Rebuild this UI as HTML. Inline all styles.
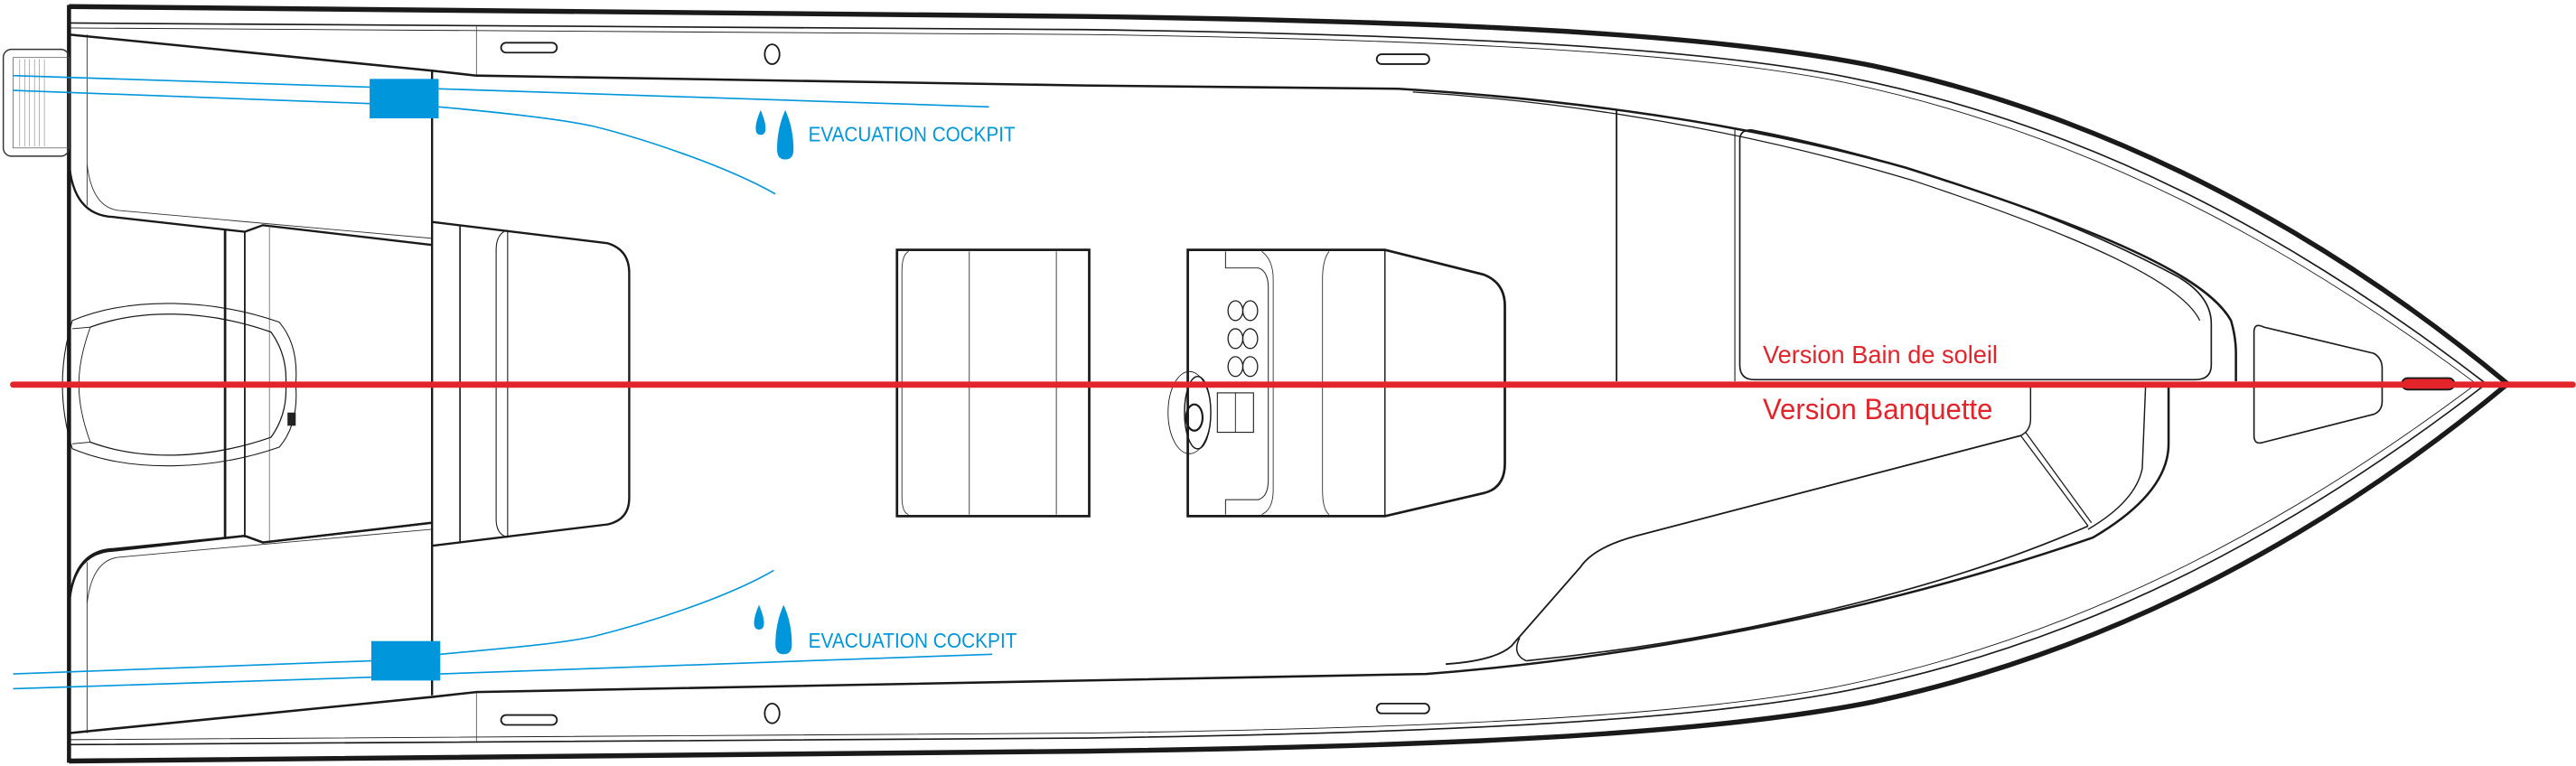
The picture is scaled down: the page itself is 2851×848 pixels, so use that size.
<!DOCTYPE html>
<html><head><meta charset="utf-8"><style>
html,body{margin:0;padding:0;background:#fff;}
svg{display:block;}
</style></head><body>
<svg width="2851" height="848" viewBox="0 0 1568 466" preserveAspectRatio="none" xmlns="http://www.w3.org/2000/svg">
<defs>
<g id="hull">
  <path d="M42,4 L660,10 C880,13 1040,20 1140,40 C1290,72 1420,145 1527,234" fill="none" stroke="#1a1a1a" stroke-width="3"/>
  <path d="M42,14 L660,18 C870,21 1030,28 1125,47 C1280,78 1405,150 1514,234" fill="none" stroke="#1a1a1a" stroke-width="0.9"/>
  <path d="M42,17 L660,21 C870,24 1028,31 1122,50 C1275,82 1400,153 1508,234" fill="none" stroke="#1a1a1a" stroke-width="0.5"/>
  <line x1="290" y1="16" x2="290" y2="46" stroke="#333" stroke-width="0.4"/>
  <rect x="305" y="26" width="34" height="6" rx="3" fill="none" stroke="#1a1a1a" stroke-width="1"/>
  <ellipse cx="470" cy="33" rx="4.5" ry="6" fill="none" stroke="#1a1a1a" stroke-width="1"/>
  <rect x="838" y="33" width="32" height="6" rx="3" fill="none" stroke="#1a1a1a" stroke-width="1"/>
  <line x1="53" y1="21" x2="53" y2="125" stroke="#333" stroke-width="0.5"/>
  <path d="M42,98 Q44,131 69,132 L149,141 L160,137 L263,149" fill="none" stroke="#1a1a1a" stroke-width="1.3"/>
  <path d="M53,100 Q56,126 72,128 L263,145" fill="none" stroke="#333" stroke-width="0.5"/>
</g>
</defs>
<rect width="1568" height="466" fill="#fff"/>
<use href="#hull"/>
<use href="#hull" transform="translate(0,467) scale(1,-1)"/>
<line x1="42" y1="3" x2="42" y2="464" stroke="#1a1a1a" stroke-width="2.5"/>
<rect x="2" y="30" width="40" height="65" rx="5" fill="none" stroke="#333" stroke-width="0.8"/>
<rect x="8" y="35" width="34" height="55" fill="none" stroke="#555" stroke-width="0.4"/>
<path d="M12,36 V89 M15,36 V89 M18,36 V89 M21,36 V89 M24,36 V89 M27,36 V89" stroke="#777" stroke-width="0.3"/>
<path d="M42,21 L263,43 L290,46 L660,52 L851,54 C950,60 1060,74 1160,102 C1280,140 1343,168 1358,195 Q1361,205 1361,215 L1361,232" fill="none" stroke="#1a1a1a" stroke-width="1.4"/>
<path d="M860,56 C960,62 1065,80 1165,110 C1270,145 1328,172 1339,195" fill="none" stroke="#1a1a1a" stroke-width="0.7"/>
<path d="M1059,85 Q1059,79 1066,79 C1150,95 1250,128 1325,168 Q1346,180 1346,197 L1346,222 Q1346,231 1336,231 L1068,231 Q1059,231 1059,222 Z" fill="none" stroke="#1a1a1a" stroke-width="0.9"/>
<line x1="984" y1="67" x2="984" y2="232" stroke="#1a1a1a" stroke-width="1"/>
<line x1="1056" y1="79" x2="1056" y2="232" stroke="#1a1a1a" stroke-width="0.6"/>
<path d="M42,446 L263,424 L290,421 L660,414 L868,410 C1000,400 1150,370 1274,327 Q1320,300 1320,270 L1320,235" fill="none" stroke="#1a1a1a" stroke-width="1.4"/>
<path d="M880,404 Q910,402 920,393 L962,345 Q970,333 996,326 L1230,265" fill="none" stroke="#1a1a1a" stroke-width="1"/>
<path d="M929,402 Q920,398 925,388" fill="none" stroke="#1a1a1a" stroke-width="0.8"/>
<path d="M929,402 C1050,390 1180,360 1271,320" fill="none" stroke="#1a1a1a" stroke-width="0.9"/>
<path d="M1230,265 L1271,320 M1233,263 L1273,318" stroke="#1a1a1a" stroke-width="0.7"/>
<path d="M1236,235 L1236,255 Q1236,262 1230,265" fill="none" stroke="#1a1a1a" stroke-width="0.8"/>
<path d="M1306,235 L1304,285 Q1300,305 1271,322" fill="none" stroke="#1a1a1a" stroke-width="0.8"/>
<path d="M1372,202 Q1372,196 1378,199 L1445,215 Q1450,218 1450,224 L1450,244 Q1450,250 1445,252 L1378,269 Q1372,271 1372,265 Z" fill="none" stroke="#1a1a1a" stroke-width="0.9"/>
<line x1="137" y1="140" x2="137" y2="327" stroke="#1a1a1a" stroke-width="1.5"/>
<line x1="149" y1="141" x2="149" y2="327" stroke="#1a1a1a" stroke-width="1"/>
<line x1="164" y1="137" x2="164" y2="331" stroke="#555" stroke-width="0.4"/>
<path d="M42,369 Q44,335 69,334 L149,326 L160,330 L263,318" fill="none" stroke="#1a1a1a" stroke-width="1.3"/>
<line x1="263" y1="43" x2="263" y2="423" stroke="#1a1a1a" stroke-width="1.3"/>
<path d="M263,135 L370,148 Q383,152 383,166 L383,303 Q383,316 370,319 L263,332" fill="none" stroke="#1a1a1a" stroke-width="1.3"/>
<line x1="280" y1="137" x2="280" y2="330" stroke="#1a1a1a" stroke-width="0.9"/>
<path d="M309,140 Q302,142 302,152 L302,316 Q302,325 309,327 M309,140 V327" fill="none" stroke="#1a1a1a" stroke-width="0.6"/>
<path d="M44,195 C80,180 130,182 170,196 Q182,210 180,234 Q182,258 170,272 C130,286 80,288 44,273 Q32,234 44,195 Z" fill="none" stroke="#1a1a1a" stroke-width="0.6"/>
<path d="M55,199 C85,188 125,188 165,202 Q175,216 174,234 Q175,252 165,266 C125,280 85,280 55,269" fill="none" stroke="#1a1a1a" stroke-width="0.7"/>
<path d="M44,200 L55,199 Q48,218 48,234 Q48,250 55,269 L44,270" fill="none" stroke="#1a1a1a" stroke-width="0.5"/>
<rect x="175" y="251" width="5" height="8" fill="#222"/>
<rect x="546" y="152" width="117" height="162" fill="none" stroke="#1a1a1a" stroke-width="1.5"/>
<path d="M553,153 Q549,155 549,165 L549,302 Q549,312 553,313" fill="none" stroke="#333" stroke-width="0.5"/>
<line x1="590" y1="153" x2="590" y2="313" stroke="#333" stroke-width="0.5"/>
<line x1="643" y1="153" x2="643" y2="313" stroke="#333" stroke-width="0.5"/>
<path d="M723,152 L843,152 L903,167 Q916,172 916,186 L916,282 Q916,297 903,300 L843,314 L723,314 Z" fill="none" stroke="#1a1a1a" stroke-width="1.5"/>
<line x1="843" y1="152" x2="843" y2="314" stroke="#1a1a1a" stroke-width="0.8"/>
<path d="M746,153 V163 L766,163 Q772,165 772,175 L772,292 Q772,302 766,304 L746,304 V313" fill="none" stroke="#333" stroke-width="0.6"/>
<path d="M768,153 Q775,158 775,170 L775,298 Q775,310 768,313" fill="none" stroke="#333" stroke-width="0.5"/>
<path d="M809,153 Q805,158 805,170 L805,298 Q805,310 809,313" fill="none" stroke="#333" stroke-width="0.5"/>
<g fill="none" stroke="#1a1a1a" stroke-width="0.7">
<ellipse cx="752" cy="189" rx="4.5" ry="6"/><ellipse cx="761" cy="189" rx="4.5" ry="6"/>
<ellipse cx="752" cy="206" rx="4.5" ry="6"/><ellipse cx="761" cy="206" rx="4.5" ry="6"/>
<ellipse cx="752" cy="223" rx="4.5" ry="6"/><ellipse cx="761" cy="223" rx="4.5" ry="6"/>
<ellipse cx="724" cy="251" rx="13" ry="25" stroke-width="0.5"/>
<ellipse cx="729" cy="251" rx="8" ry="22" stroke-width="0.8"/>
<ellipse cx="727" cy="254" rx="5" ry="8" stroke-width="1.2"/>
<rect x="741" y="239" width="22" height="24" stroke-width="0.6"/>
<line x1="752" y1="239" x2="752" y2="263" stroke-width="0.5"/>
</g>
<rect x="1462" y="230" width="32" height="7" rx="3.5" fill="#e3242b" stroke="#1a1a1a" stroke-width="1"/>
<line x1="8" y1="234" x2="1566" y2="234" stroke="#e3242b" stroke-width="3.8" stroke-linecap="round"/>
<text x="1073" y="221" font-family="Liberation Sans, sans-serif" font-size="15" fill="#e3242b" textLength="143" lengthAdjust="spacingAndGlyphs">Version Bain de soleil</text>
<text x="1073" y="255" font-family="Liberation Sans, sans-serif" font-size="18" fill="#e3242b" textLength="140" lengthAdjust="spacingAndGlyphs">Version Banquette</text>
<g stroke="#0096dc" stroke-width="0.9" fill="none">
<line x1="8" y1="46" x2="225" y2="53"/>
<line x1="8" y1="55" x2="225" y2="63"/>
<line x1="267" y1="54" x2="602" y2="65"/>
<path d="M267,65 C300,68 340,72 362,77 C390,84 440,100 472,118"/>
<line x1="8" y1="410" x2="226" y2="402"/>
<line x1="8" y1="419" x2="226" y2="412"/>
<line x1="268" y1="410" x2="604" y2="398"/>
<path d="M268,398 C300,395 340,392 362,387 C390,380 440,365 471,347"/>
</g>
<rect x="225" y="48" width="42" height="24" fill="#0096dc"/>
<rect x="226" y="390" width="42" height="24" fill="#0096dc"/>
<g fill="#0096dc">
<path d="M463,67 Q460,74 460,78 Q460,82 463,82 Q466,82 466,78 Q466,74 463,67 Z"/>
<path d="M478,67 Q473,78 473,91 Q473,97 478,97 Q483,97 483,91 Q483,78 478,67 Z"/>
<path d="M462,368 Q459,375 459,379 Q459,383 462,383 Q465,383 465,379 Q465,375 462,368 Z"/>
<path d="M477,368 Q472,379 472,392 Q472,398 477,398 Q482,398 482,392 Q482,379 477,368 Z"/>
</g>
<text x="492" y="86" font-family="Liberation Sans, sans-serif" font-size="12.5" fill="#0096dc" textLength="126" lengthAdjust="spacingAndGlyphs">EVACUATION COCKPIT</text>
<text x="492" y="394" font-family="Liberation Sans, sans-serif" font-size="12.5" fill="#0096dc" textLength="127" lengthAdjust="spacingAndGlyphs">EVACUATION COCKPIT</text>
</svg>
</body></html>
